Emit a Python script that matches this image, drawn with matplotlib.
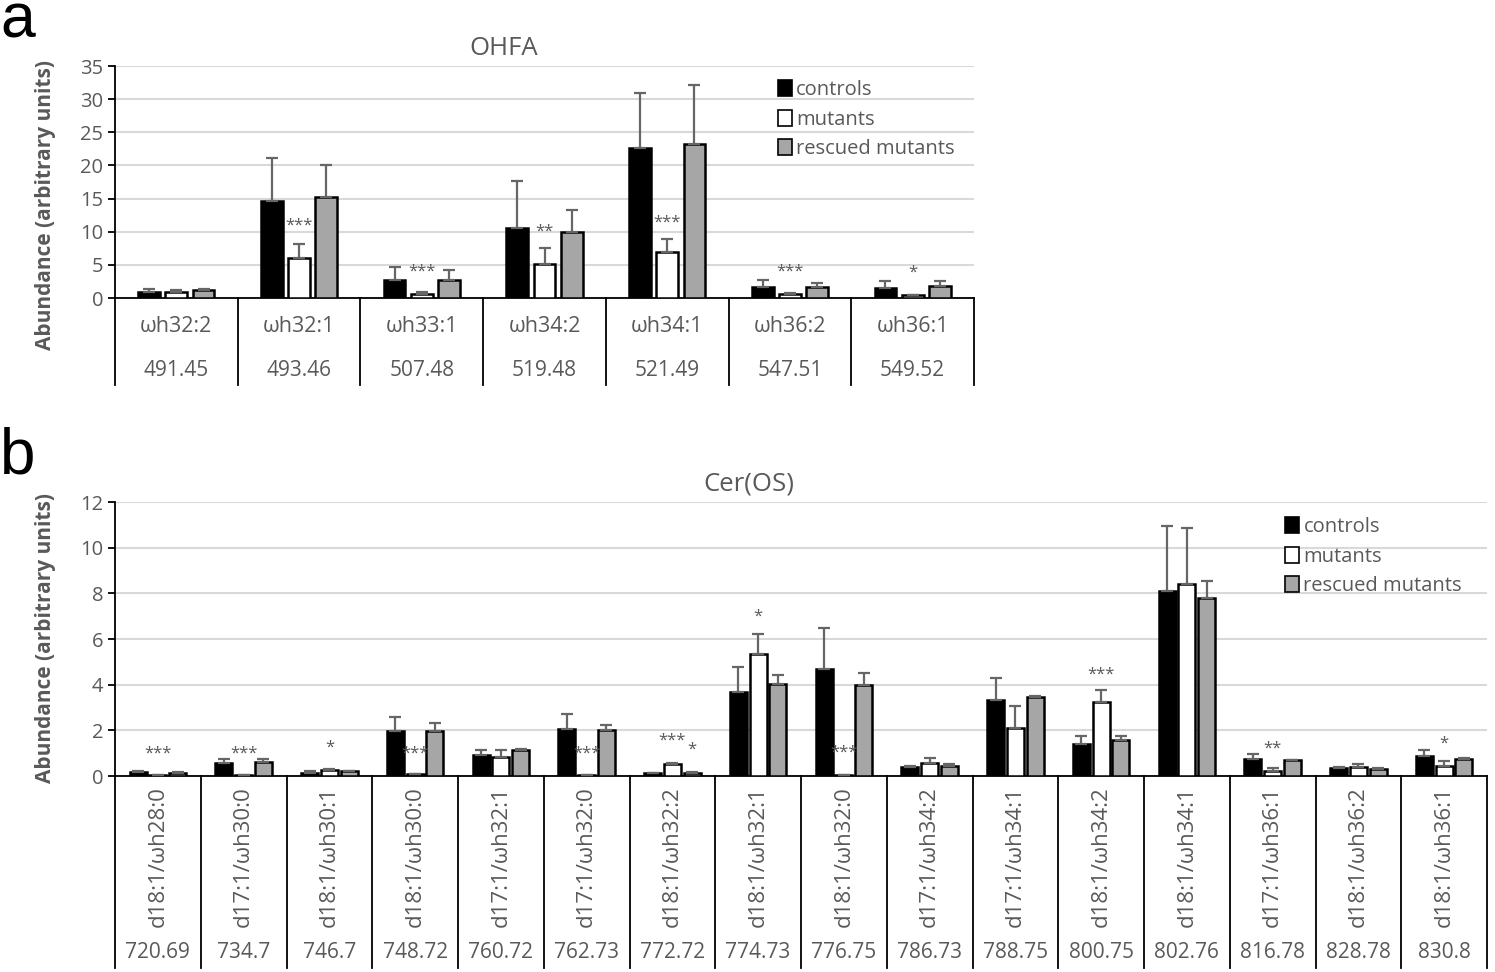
import numpy as np
import matplotlib
matplotlib.use("Agg")
import matplotlib.pyplot as plt
from matplotlib.patches import Patch

plt.rcParams['font.family'] = ['Open Sans', 'DejaVu Sans']

# ---- panel a: OHFA ----
cats_a = ['ωh32:2', 'ωh32:1', 'ωh33:1', 'ωh34:2', 'ωh34:1', 'ωh36:2', 'ωh36:1']
mz_a = ['491.45', '493.46', '507.48', '519.48', '521.49', '547.51', '549.52']
controls_a = [0.9, 14.6, 2.75, 10.6, 22.65, 1.7, 1.55]
controls_a_sd = [0.5, 6.5, 1.9, 7.1, 8.3, 0.95, 0.95]
mutants_a = [0.85, 6.0, 0.55, 5.2, 6.9, 0.6, 0.45]
mutants_a_sd = [0.3, 2.2, 0.3, 2.3, 2.0, 0.15, 0.05]
rescued_a = [1.15, 15.2, 2.7, 10.0, 23.3, 1.65, 1.8]
rescued_a_sd = [0.15, 4.8, 1.55, 3.3, 8.8, 0.55, 0.7]
# (category, series, label, height)
stars_a = [(1, 1, '***', 10.9), (2, 1, '***', 4.0), (3, 1, '**', 10.0),
           (4, 1, '***', 11.4), (5, 1, '***', 3.9), (6, 1, '*', 3.75)]

# ---- panel b: Cer(OS) ----
cats_b = ['d18:1/ωh28:0', 'd17:1/ωh30:0', 'd18:1/ωh30:1', 'd18:1/ωh30:0',
          'd17:1/ωh32:1', 'd17:1/ωh32:0', 'd18:1/ωh32:2', 'd18:1/ωh32:1',
          'd18:1/ωh32:0', 'd17:1/ωh34:2', 'd17:1/ωh34:1', 'd18:1/ωh34:2',
          'd18:1/ωh34:1', 'd17:1/ωh36:1', 'd18:1/ωh36:2', 'd18:1/ωh36:1']
mz_b = ['720.69', '734.7', '746.7', '748.72', '760.72', '762.73', '772.72', '774.73',
        '776.75', '786.73', '788.75', '800.75', '802.76', '816.78', '828.78', '830.8']
controls_b = [0.17, 0.55, 0.15, 1.97, 0.92, 2.05, 0.12, 3.66, 4.7, 0.38, 3.31, 1.42, 8.09, 0.75, 0.34, 0.86]
controls_b_sd = [0.06, 0.19, 0.05, 0.63, 0.23, 0.68, 0.02, 1.13, 1.78, 0.06, 0.98, 0.31, 2.85, 0.22, 0.06, 0.28]
mutants_b = [0.03, 0.03, 0.27, 0.07, 0.83, 0.04, 0.53, 5.35, 0.03, 0.56, 2.12, 3.25, 8.4, 0.23, 0.41, 0.45]
mutants_b_sd = [0.0, 0.0, 0.05, 0.0, 0.32, 0.0, 0.03, 0.88, 0.0, 0.24, 0.93, 0.52, 2.47, 0.14, 0.1, 0.19]
rescued_b = [0.15, 0.6, 0.2, 1.95, 1.15, 2.0, 0.15, 4.03, 3.97, 0.45, 3.46, 1.58, 7.8, 0.69, 0.32, 0.75]
rescued_b_sd = [0.03, 0.14, 0.02, 0.37, 0.05, 0.25, 0.03, 0.39, 0.53, 0.08, 0.04, 0.19, 0.73, 0.01, 0.02, 0.05]
stars_b = [(0, 1, '***', 1.0), (1, 1, '***', 1.0), (2, 1, '*', 1.25), (3, 1, '***', 1.0),
           (5, 1, '***', 1.0), (6, 1, '***', 1.54), (6, 2, '*', 1.14), (7, 1, '*', 7.0),
           (8, 1, '***', 1.03), (11, 1, '***', 4.45), (13, 1, '**', 1.2), (15, 1, '*', 1.4)]

series_names = ['controls', 'mutants', 'rescued mutants']
series_colors = ['black', 'white', '#a6a6a6']
TXT = '#595959'

W, H = 1495, 972
fig = plt.figure(figsize=(W / 100, H / 100), dpi=100)


def draw_panel(rect, title, title_x, cats, mz, vals, sds, stars, ymax, ystep, width, pitch,
               vertical, lab_y, mz_y, tbl_bottom, leg_anchor):
    ax = fig.add_axes(rect)
    n = len(cats)
    x = np.arange(n)
    for k in range(3):
        xs = x + (k - 1) * pitch
        ax.bar(xs, vals[k], width, color=series_colors[k], edgecolor='black',
               linewidth=1.8, zorder=3, label=series_names[k])
        ax.errorbar(xs, vals[k], yerr=[np.zeros(n), sds[k]], fmt='none',
                    ecolor='#666666', elinewidth=1.6, capsize=4.5, capthick=1.6, zorder=4)
    for (c, s, lab, yv) in stars:
        ax.text(c + (s - 1) * pitch, yv, lab, ha='center', va='center',
                fontsize=12, color=TXT, zorder=5)
    ax.set_xlim(-0.5, n - 0.5)
    ax.set_ylim(0, ymax)
    ax.set_yticks(np.arange(0, ymax + 0.01, ystep))
    ax.yaxis.grid(True, color='#d9d9d9', linewidth=1.5, zorder=0)
    ax.set_axisbelow(True)
    ax.set_xticks([])
    ax.tick_params(axis='y', labelsize=14.5, colors='black', labelcolor=TXT,
                   length=5, width=1.3)
    for sp in ['top', 'right']:
        ax.spines[sp].set_visible(False)
    ax.spines['left'].set_linewidth(1.3)
    ax.spines['bottom'].set_linewidth(1.3)
    # category table below the axis
    trans = ax.get_xaxis_transform()
    for i in range(n + 1):
        ax.plot([i - 0.5, i - 0.5], [0, tbl_bottom], color='black', lw=1.3,
                transform=trans, clip_on=False)
    for i in range(n):
        if vertical:
            ax.text(i, lab_y, cats[i], rotation=90, ha='center', va='center',
                    fontsize=16, color=TXT, transform=trans)
        else:
            ax.text(i, lab_y, cats[i], ha='center', va='center',
                    fontsize=15.5, color=TXT, transform=trans)
        ax.text(i, mz_y, mz[i], ha='center', va='center', fontsize=15,
                color=TXT, transform=trans)
    ax.set_title(title, fontsize=18.5, color=TXT, pad=8, x=title_x)
    handles = [Patch(facecolor=series_colors[k], edgecolor='black', linewidth=1.2)
               for k in range(3)]
    ax.legend(handles, series_names, loc='upper left', bbox_to_anchor=leg_anchor,
              frameon=False, fontsize=14.5, labelcolor=TXT, handlelength=0.7,
              handleheight=0.85, handletextpad=0.2, labelspacing=0.48,
              borderaxespad=0, borderpad=0)
    return ax


def frac_rect(left, top, right, bottom):
    return [left / W, 1 - bottom / H, (right - left) / W, (bottom - top) / H]


draw_panel(frac_rect(115, 66, 974, 298), 'OHFA', (504 - 115) / 859, cats_a, mz_a,
           [controls_a, mutants_a, rescued_a], [controls_a_sd, mutants_a_sd, rescued_a_sd],
           stars_a, 35, 5, 0.177, 0.222, False,
           (298 - 327) / 232, (298 - 371) / 232, (298 - 385) / 232, (0.772, 0.94))

draw_panel(frac_rect(115, 502, 1487, 776), 'Cer(OS)', (749 - 115) / 1372, cats_b, mz_b,
           [controls_b, mutants_b, rescued_b], [controls_b_sd, mutants_b_sd, rescued_b_sd],
           stars_b, 12, 2, 0.2, 0.23, True,
           (776 - 857) / 274, (776 - 952) / 274, (776 - 968) / 274, (0.853, 0.945))

fig.text(46 / W, 1 - 205 / H, 'Abundance (arbitrary units)', rotation=90, ha='center',
         va='center', fontsize=15, fontweight='bold', color=TXT)
fig.text(46 / W, 1 - 638 / H, 'Abundance (arbitrary units)', rotation=90, ha='center',
         va='center', fontsize=15, fontweight='bold', color=TXT)
fig.text(0, 1 - 38 / H, 'a', fontsize=45, ha='left', va='baseline', color='black',
         family='Liberation Sans')
fig.text(0, 1 - 473 / H, 'b', fontsize=46, ha='left', va='baseline', color='black',
         family='Liberation Sans')

fig.savefig('out.png', dpi=100)
